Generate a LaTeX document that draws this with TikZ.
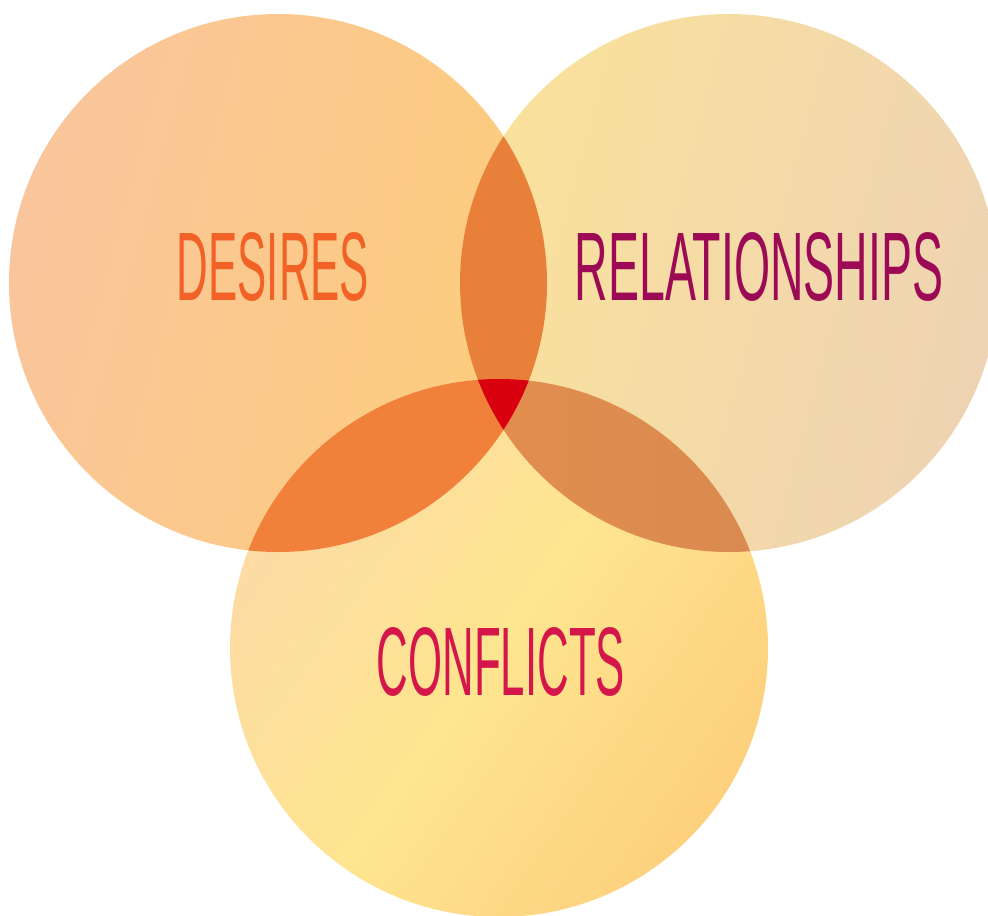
\documentclass[tikz,border=0pt]{standalone}
\usepackage{fontspec}
\setmainfont{Liberation Sans}
\definecolor{desires}{HTML}{F26125}
\definecolor{relations}{HTML}{9C0A55}
\definecolor{conflicts}{HTML}{D4164A}
\definecolor{lefta}{HTML}{F9C59C}
\definecolor{leftb}{HTML}{FDCD7B}
\definecolor{righta}{HTML}{FAE29B}
\definecolor{rightb}{HTML}{EED3B3}
\definecolor{bota}{HTML}{FDDBA6}
\definecolor{botb}{HTML}{FEE58F}
\definecolor{botc}{HTML}{FDD07D}
\definecolor{lr}{HTML}{E9803A}
\definecolor{lb}{HTML}{F0803A}
\definecolor{rba}{HTML}{EA914E}
\definecolor{rbb}{HTML}{D98A50}
\definecolor{core}{HTML}{D9000F}

\begin{document}
\begin{tikzpicture}[x=0.75pt,y=-0.75pt,
    label/.style={inner sep=0pt,anchor=base,xscale=0.45,transform shape,font=\fontsize{73}{73}\selectfont}]
  \useasboundingbox (0,0) rectangle (988,916);
  \coordinate (D) at (278,283);
  \coordinate (R) at (729,283);
  \coordinate (C) at (499,648);

  \shade[left color=lefta,right color=leftb,shading angle=75] (D) circle (269);
  \shade[left color=righta,right color=rightb,shading angle=75] (R) circle (269);
  \shade[left color=bota,right color=botc,middle color=botb,shading angle=55] (C) circle (269);

  \begin{scope}
    \clip (D) circle (269);
    \fill[lr] (R) circle (269);
    \fill[lb] (C) circle (269);
  \end{scope}
  \begin{scope}
    \clip (R) circle (269);
    \shade[left color=rba,right color=rbb] (C) circle (269);
    \clip (C) circle (269);
    \fill[core] (D) circle (269);
  \end{scope}

  \node[label,text=desires] (desires) at (273,300) {DESIRES};
  \node[label,text=relations,xscale=1.06] (relations) at (759,300) {RELATIONSHIPS};
  \node[label,text=conflicts] (conflicts) at (501,695) {CONFLICTS};
\end{tikzpicture}
\end{document}
